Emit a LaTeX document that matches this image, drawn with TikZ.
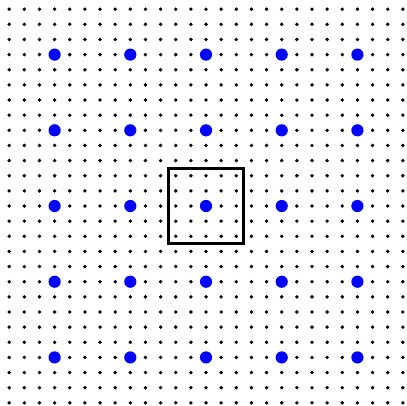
\documentclass[tikz,border=0pt]{standalone}
\begin{document}
\begin{tikzpicture}[x=1pt,y=-1pt,
  gdot/.style={fill=black},
  bdot/.style={fill=blue},
  cellbox/.style={draw=black,line width=2.8pt}]
\useasboundingbox (0,0) rectangle (407,406);
\def\sp{15.14}
\def\off{9.2}
\foreach \i in {0,...,26}{
  \foreach \j in {0,...,26}{
    \fill[gdot] (\off+\i*\sp,\off+\j*\sp) circle (1.9);
  }
}
\foreach \i in {3,8,13,18,23}{
  \foreach \j in {3,8,13,18,23}{
    \fill[bdot] (\off+\i*\sp,\off+\j*\sp) circle (6.1);
  }
}
\node[cellbox,minimum size=75.7pt,inner sep=0pt] (cell) at (\off+13*\sp,\off+13*\sp) {};
\end{tikzpicture}
\end{document}
